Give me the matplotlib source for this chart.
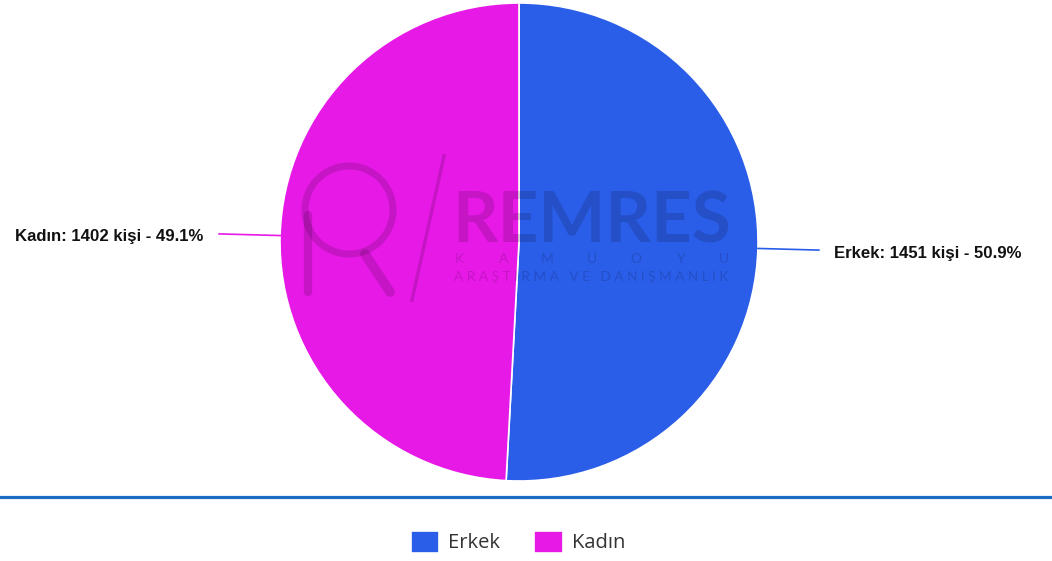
import numpy as np
import matplotlib.pyplot as plt
from matplotlib.lines import Line2D
from matplotlib.patches import Circle

# data
labels = ["Erkek", "Kadın"]
counts = [1451, 1402]
colors = ["#2a5de8", "#e619e6"]

W, H = 1052, 561
fig = plt.figure(figsize=(W / 100, H / 100), dpi=100)
ax = fig.add_axes([0, 0, 1, 1])

cx, cy, R = 519, H - 242, 239
wedges, _ = ax.pie(counts, colors=colors, startangle=90, counterclock=False,
                   center=(cx, cy), radius=R,
                   wedgeprops=dict(edgecolor="white", linewidth=1.2))
ax.set_xlim(0, W)
ax.set_ylim(0, H)
ax.set_aspect("equal")
ax.axis("off")

# labels with leader lines
total = sum(counts)
for w, lab, n in zip(wedges, labels, counts):
    ang = np.deg2rad((w.theta1 + w.theta2) / 2)
    x0, y0 = cx + R * np.cos(ang), cy + R * np.sin(ang)
    x1, y1 = cx + 300 * np.cos(ang), cy + 300 * np.sin(ang)
    ax.plot([x0, x1], [y0, y1], color=w.get_facecolor(), lw=1.2)
    right = np.cos(ang) > 0
    ax.text(x1 + (15 if right else -16), y1 - 3,
            f"{lab}: {n} kişi - {n / total * 100:.1f}%",
            ha="left" if right else "right", va="center",
            fontsize=12.1, fontweight="bold", family="Liberation Sans", color="#111111")

# watermark
wm = (0, 0, 0, 0.14)
ax.text(452, H - 242, "REMRES", fontsize=51, fontweight="bold", family="Lato",
        color=wm, ha="left", va="baseline")
for x, ch in zip(np.linspace(459, 724, 7), "KAMUOYU"):
    ax.text(x, H - 259, ch, fontsize=10, family="Lato", color=wm, ha="center", va="center")
ax.text(591, H - 277, "A R A Ş T I R M A   V E   D A N I Ş M A N L I K", fontsize=9.8,
        family="Lato", color=wm, ha="center", va="center")
ax.add_patch(Circle((349, H - 210), 44, fill=False, lw=5, ec=wm))
ax.plot([365, 390], [H - 254, H - 292], color=wm, lw=7, solid_capstyle="round")
ax.plot([308, 308], [H - 215, H - 292], color=wm, lw=6, solid_capstyle="round")
ax.plot([444, 412], [H - 156, H - 300], color=wm, lw=2.5)

# separator line
fig.add_artist(Line2D([0, 1], [1 - 497 / H, 1 - 497 / H], color="#1c6cc4", lw=2.3))

fig.legend(wedges, labels, loc="center", bbox_to_anchor=(518 / W, 1 - 542 / H),
           ncol=2, frameon=False, prop=dict(family="Open Sans", size=14.5),
           labelcolor="#333333", handlelength=1.4, handleheight=1.3,
           handletextpad=0.45, columnspacing=1.7)

fig.savefig("out.png", dpi=100)
